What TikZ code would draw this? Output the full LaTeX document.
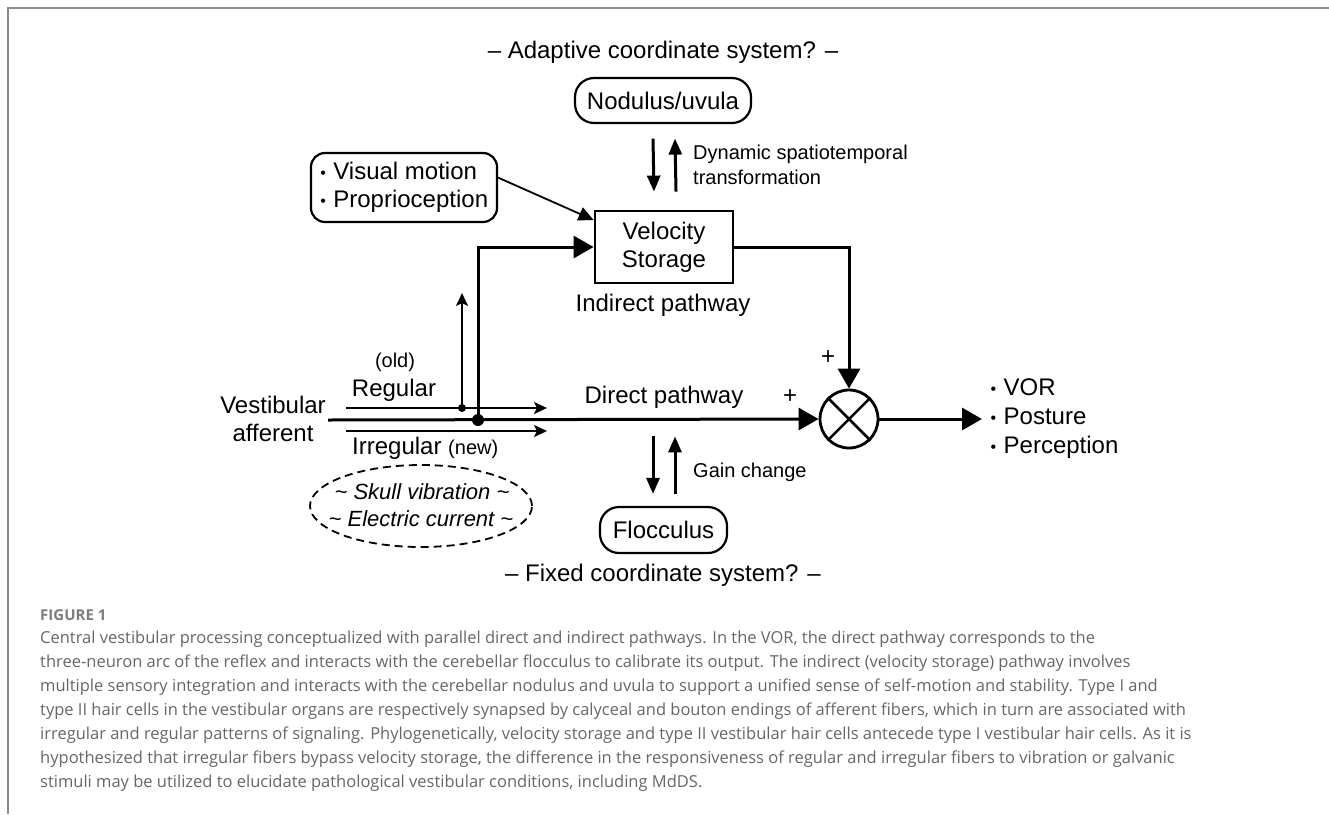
\documentclass[tikz,border=0pt]{standalone}
\usepackage{fontspec}
\setmainfont{Liberation Sans}
\newfontfamily\capfont{Open Sans}
\usetikzlibrary{arrows.meta,calc,shapes.geometric}
\definecolor{framegray}{HTML}{8C8C8C}
\definecolor{capgray}{HTML}{666666}
\newcommand{\smallbul}{\makebox[13.5pt][l]{\hspace{0.5pt}\raisebox{1pt}{\fontsize{16}{16}\selectfont•}}}
\tikzset{
  big/.style={font=\fontsize{24}{28}\selectfont, inner sep=0pt},
  small/.style={font=\fontsize{20}{25}\selectfont, inner sep=0pt},
  rbox/.style={draw, line width=2.2pt, rounded corners=19pt, inner sep=0pt},
  sqbox/.style={draw, line width=2.8pt, inner sep=0pt},
  heavy/.style={line width=3pt, -{Triangle[length=20pt,width=22pt]}},
  pairarrow/.style={line width=3pt, -{Triangle[length=16pt,width=13pt]}},
  fine/.style={line width=1.8pt, -{Stealth[length=13pt,width=12pt,inset=3pt]}},
  capline/.style={font=\capfont\fontsize{16.5}{24}\selectfont, text=capgray, inner sep=0pt, anchor=base west},
}
\begin{document}
\begin{tikzpicture}[x=1pt,y=-1pt]
\useasboundingbox (0,0) rectangle (1329,814);
% frame
\draw[framegray, line width=2pt] (7.5,814) -- (7.5,7.5) -- (1329,7.5);

% top / bottom titles
\node[big] (adapt) at (663,52) {– Adaptive coordinate system? –};
\node[big] (fixed) at (663,575) {– Fixed coordinate system? –};

% boxes
\node[rbox, minimum width=176pt, minimum height=45pt, big] (nod) at (663,100.5) {Nodulus/uvula};
\node[sqbox, minimum width=138pt, minimum height=72pt, big, align=center] (vs) at (664,247) {Velocity\\Storage};
\node[rbox, rounded corners=14pt, minimum width=186pt, minimum height=69pt, big, align=left] (vis) at (404,187.5) {\smallbul Visual motion\\\smallbul Proprioception};
\node[rbox, minimum width=127pt, minimum height=46pt, big] (floc) at (663.5,530) {Flocculus};
\node[draw, circle, line width=2.8pt, minimum size=58pt, inner sep=0pt] (sum) at (849,419) {};
\draw[line width=2.5pt] (sum.north west) -- (sum.south east) (sum.north east) -- (sum.south west);

% labels
\node[big] (indirect) at (663,305) {Indirect pathway};
\node[big] (direct) at (664,397) {Direct pathway};
\node[small, anchor=west, align=left] (dyn) at (693,164.5) {Dynamic spatiotemporal\\transformation};
\node[small, anchor=west] (gain) at (693,472) {Gain change};
\node[big] (plus1) at (828,358) {+};
\node[big] (plus2) at (790,397) {+};
\node[big, align=center] (vest) at (273,419) {Vestibular\\afferent};
\node[small] (old) at (395,362) {(old)};
\node[big] (reg) at (394,390) {Regular};
\node[big, anchor=west] (irreg) at (352,448) {Irregular {\fontsize{20}{24}\selectfont(new)}};
\node[big, anchor=west, align=left, font=\fontsize{24}{29}\selectfont] (outs) at (990,419) {\smallbul VOR\\\smallbul Posture\\\smallbul Perception};

% stimuli ellipse
\node[draw, ellipse, dash pattern=on 8pt off 5pt, line width=1.8pt, minimum width=222pt, minimum height=82pt, inner sep=0pt] (stim) at (421,506) {};
\node[inner sep=0pt, font=\fontsize{22}{26}\selectfont\itshape] (skull) at (422,492) {\textasciitilde\ Skull vibration \textasciitilde};
\node[inner sep=0pt, font=\fontsize{22}{26}\selectfont\itshape] (elec) at (421,519) {\textasciitilde\ Electric current \textasciitilde};

% connectors
\coordinate (vin) at (328,420);
\coordinate (oute) at (982,419);
\draw[heavy] (vin) -- (sum.west);
\node[circle, fill, minimum size=12pt, inner sep=0pt] (bdot) at (478,420) {};
\draw[heavy] (bdot.center) |- (vs.west);
\draw[heavy] (vs.east) -| (sum.north);
\draw[heavy] (sum.east) -- (oute);
\draw[line width=1.8pt, -{Triangle[length=15pt,width=14pt]}] (vis.6) -- (vs.159);

\coordinate (rs) at (346,408);
\coordinate (re) at (547,408);
\coordinate (is) at (346,431);
\coordinate (ie) at (547,431);
\coordinate (up) at (462,293);
\draw[fine] (rs) -- (re);
\draw[fine] (is) -- (ie);
\node[circle, fill, minimum size=8pt, inner sep=0pt] (sdot) at (462,408) {};
\draw[fine] (sdot.center) -- (up);

% paired arrows
\draw[pairarrow] ($(nod.south)+(-10,14.5)$) -- ($(vs.north)+(-10,-18)$);
\draw[pairarrow] ($(vs.north)+(12,-18)$) -- ($(nod.south)+(12,14.5)$);
\draw[pairarrow] ($(direct.south)+(-11,28)$) -- ($(floc.north)+(-10.5,-12)$);
\draw[pairarrow] ($(floc.north)+(11.5,-12)$) -- ($(direct.south)+(11,28)$);

% caption
\node[capline, font=\capfont\bfseries\fontsize{15}{18}\selectfont, text=capgray!85] (fig) at (40,620) {FIGURE 1};
\node[capline] (c1) at (40,643) {Central vestibular processing conceptualized with parallel direct and indirect pathways. In the VOR, the direct pathway corresponds to the};
\node[capline] (c2) at (40,667) {three-neuron arc of the reflex and interacts with the cerebellar flocculus to calibrate its output. The indirect (velocity storage) pathway involves};
\node[capline] (c3) at (40,691) {multiple sensory integration and interacts with the cerebellar nodulus and uvula to support a unified sense of self-motion and stability. Type I and};
\node[capline] (c4) at (40,715) {type II hair cells in the vestibular organs are respectively synapsed by calyceal and bouton endings of afferent fibers, which in turn are associated with};
\node[capline] (c5) at (40,739) {irregular and regular patterns of signaling. Phylogenetically, velocity storage and type II vestibular hair cells antecede type I vestibular hair cells. As it is};
\node[capline] (c6) at (40,763) {hypothesized that irregular fibers bypass velocity storage, the difference in the responsiveness of regular and irregular fibers to vibration or galvanic};
\node[capline] (c7) at (40,787) {stimuli may be utilized to elucidate pathological vestibular conditions, including MdDS.};
\end{tikzpicture}
\end{document}
